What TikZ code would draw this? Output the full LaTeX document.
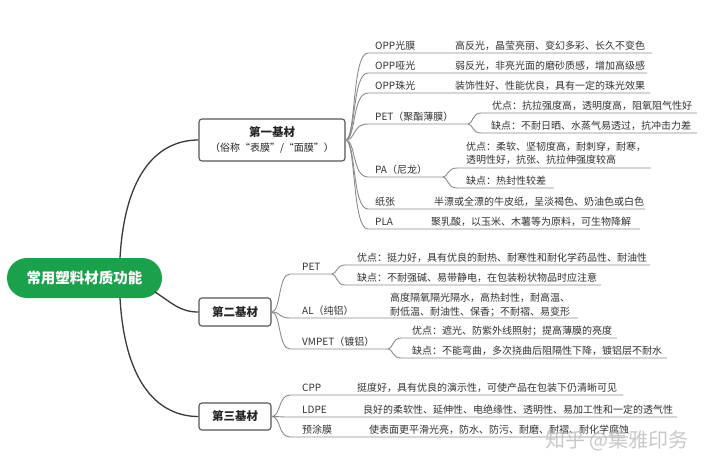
\documentclass[tikz,border=0pt]{standalone}
\usepackage{fontspec}
\setmainfont{Noto Sans CJK SC}
\definecolor{rootgreen}{RGB}{27,160,75}
\definecolor{txt}{HTML}{333333}
\definecolor{lin}{HTML}{8C8C8C}
\definecolor{boxline}{HTML}{555555}
\definecolor{rootline}{HTML}{3A3A3A}
\begin{document}
\begin{tikzpicture}[x=1pt,y=-1pt,
  topic/.style={anchor=base west,inner sep=0pt,text=txt,font=\fontsize{10}{13}\selectfont},
  uline/.style={draw=lin,line width=0.9pt},
  rlink/.style={draw=rootline,line width=1.3pt},
  mainbox/.style={draw=boxline,line width=1.1pt,rounded corners=3pt,fill=white,text=black!85,inner sep=0pt},
  rootnode/.style={fill=rootgreen,rounded corners=20pt,minimum width=155pt,minimum height=40pt,text=white,font=\fontsize{14.5}{16}\selectfont\bfseries,inner sep=0pt},
  watermark/.style={anchor=west,text=gray!50,opacity=0.85,font=\fontsize{20}{22}\selectfont,inner sep=0pt}
]
\fill[white] (0,0) rectangle (720,469);
\useasboundingbox (0,0) rectangle (720,469);

% ---------- main nodes ----------
\node[rootnode] (root) at (84.5,278) {常用塑料材质功能};
\node[mainbox,minimum width=146pt,minimum height=42pt,align=center,font=\fontsize{10}{15}\selectfont] (b1) at (272,140)
  {{\fontsize{11.5}{15}\selectfont\bfseries 第一基材}\\{（俗称“表膜”/“面膜”）}};
\node[mainbox,minimum width=72pt,minimum height=28pt,font=\fontsize{11.5}{14}\selectfont\bfseries] (b2) at (235,312) {第二基材};
\node[mainbox,minimum width=72pt,minimum height=27pt,font=\fontsize{11.5}{14}\selectfont\bfseries] (b3) at (235,416.5) {第三基材};

% ---------- root links ----------
\coordinate (rt) at (120,258);
\coordinate (rr) at (155,292);
\coordinate (rb) at (120,298);
\draw[rlink] (rt) .. controls (125,170) and (160,140) .. (b1.west);
\draw[rlink] (rr) .. controls (172,303) and (180,312) .. (b2.west);
\draw[rlink] (rb) .. controls (125,386) and (160,416.5) .. (b3.west);

% ---------- first base ----------
\coordinate (c1L) at (368,53);  \coordinate (c1R) at (652,53);
\coordinate (c2L) at (368,73);  \coordinate (c2R) at (647,73);
\coordinate (c3L) at (368,93);  \coordinate (c3R) at (650,93);
\coordinate (c4L) at (368,124); \coordinate (c4R) at (468,124);
\coordinate (c5L) at (368,177); \coordinate (c5R) at (443,177);
\coordinate (c6L) at (368,209); \coordinate (c6R) at (645,209);
\coordinate (c7L) at (368,229); \coordinate (c7R) at (640,229);
\draw[uline] (b1.east) .. controls (356,140) and (352,53)  .. (c1L) -- (c1R);
\draw[uline] (b1.east) .. controls (356,140) and (352,73)  .. (c2L) -- (c2R);
\draw[uline] (b1.east) .. controls (356,140) and (352,93)  .. (c3L) -- (c3R);
\draw[uline] (b1.east) .. controls (356,140) and (352,124) .. (c4L) -- (c4R);
\draw[uline] (b1.east) .. controls (356,140) and (352,177) .. (c5L) -- (c5R);
\draw[uline] (b1.east) .. controls (356,140) and (352,209) .. (c6L) -- (c6R);
\draw[uline] (b1.east) .. controls (356,140) and (352,229) .. (c7L) -- (c7R);
% PET sub
\coordinate (c4aL) at (481,113); \coordinate (c4aR) at (697,113);
\coordinate (c4bL) at (481,133); \coordinate (c4bR) at (697,133);
\draw[uline] (c4R) .. controls (473,124) and (472,113) .. (c4aL) -- (c4aR);
\draw[uline] (c4R) .. controls (473,124) and (472,133) .. (c4bL) -- (c4bR);
% PA sub
\coordinate (c5aL) at (457,168); \coordinate (c5aR) at (651,168);
\coordinate (c5bL) at (457,188); \coordinate (c5bR) at (554,188);
\draw[uline] (c5R) .. controls (448,177) and (447,168) .. (c5aL) -- (c5aR);
\draw[uline] (c5R) .. controls (448,177) and (447,188) .. (c5bL) -- (c5bR);

\node[topic] (t1)  at (375,49.5)  {OPP光膜};
\node[topic] (d1)  at (455,49.5)  {高反光，晶莹亮丽、变幻多彩、长久不变色};
\node[topic] (t2)  at (375,69.5)  {OPP哑光};
\node[topic] (d2)  at (455,69.5)  {弱反光，非亮光面的磨砂质感，增加高级感};
\node[topic] (t3)  at (375,89.5)  {OPP珠光};
\node[topic] (d3)  at (455,89.5)  {装饰性好、性能优良，具有一定的珠光效果};
\node[topic] (t4)  at (375,120.5) {PET（聚酯薄膜）};
\node[topic] (d4a) at (492,109.5) {优点：抗拉强度高，透明度高，阻氧阻气性好};
\node[topic] (d4b) at (491,129.5) {缺点：不耐日晒、水蒸气易透过，抗冲击力差};
\node[topic] (t5)  at (375,173.5) {PA（尼龙）};
\node[topic] (d5a) at (466,150)   {优点：柔软、坚韧度高，耐刺穿，耐寒，};
\node[topic] (d5c) at (466,163)   {透明性好，抗张、抗拉伸强度较高};
\node[topic] (d5b) at (466,184.5) {缺点：热封性较差};
\node[topic] (t6)  at (375,205.5) {纸张};
\node[topic] (d6)  at (434,205.5) {半漂或全漂的牛皮纸，呈淡褐色、奶油色或白色};
\node[topic] (t7)  at (375,225.5) {PLA};
\node[topic] (d7)  at (431,225.5) {聚乳酸，以玉米、木薯等为原料，可生物降解};

% ---------- second base ----------
\coordinate (e1L) at (290,274); \coordinate (e1R) at (332,274);
\coordinate (e2L) at (290,318); \coordinate (e2R) at (578,318);
\coordinate (e3L) at (290,349); \coordinate (e3R) at (388,349);
\draw[uline] (b2.east) .. controls (281,312) and (278,274) .. (e1L) -- (e1R);
\draw[uline] (b2.east) .. controls (281,312) and (278,318) .. (e2L) -- (e2R);
\draw[uline] (b2.east) .. controls (281,312) and (278,349) .. (e3L) -- (e3R);
\coordinate (e1aL) at (345,265); \coordinate (e1aR) at (650,265);
\coordinate (e1bL) at (345,285); \coordinate (e1bR) at (601,285);
\draw[uline] (e1R) .. controls (337,274) and (336,265) .. (e1aL) -- (e1aR);
\draw[uline] (e1R) .. controls (337,274) and (336,285) .. (e1bL) -- (e1bR);
\coordinate (e3aL) at (401,338); \coordinate (e3aR) at (617,338);
\coordinate (e3bL) at (401,358); \coordinate (e3bR) at (667,358);
\draw[uline] (e3R) .. controls (393,349) and (392,338) .. (e3aL) -- (e3aR);
\draw[uline] (e3R) .. controls (393,349) and (392,358) .. (e3bL) -- (e3bR);

\node[topic] (s1)  at (302,270.5) {PET};
\node[topic] (g1a) at (357,261.5) {优点：挺力好，具有优良的耐热、耐寒性和耐化学药品性、耐油性};
\node[topic] (g1b) at (357,281.5) {缺点：不耐强碱、易带静电，在包装粉状物品时应注意};
\node[topic] (s2)  at (302,314.5) {AL（纯铝）};
\node[topic] (g2a) at (390,301.5) {高度隔氧隔光隔水，高热封性，耐高温、};
\node[topic] (g2b) at (390,315)   {耐低温、耐油性、保香；不耐褶、易变形};
\node[topic] (s3)  at (302,345.5) {VMPET（镀铝）};
\node[topic] (g3a) at (412,334.5) {优点：遮光、防紫外线照射；提高薄膜的亮度};
\node[topic] (g3b) at (412,354.5) {缺点：不能弯曲，多次挠曲后阻隔性下降，镀铝层不耐水};

% ---------- third base ----------
\coordinate (f1L) at (290,395); \coordinate (f1R) at (623,395);
\coordinate (f2L) at (290,417); \coordinate (f2R) at (677,417);
\coordinate (f3L) at (290,437); \coordinate (f3R) at (628,437);
\draw[uline] (b3.east) .. controls (281,416.5) and (278,395) .. (f1L) -- (f1R);
\draw[uline] (b3.east) .. controls (281,416.5) and (278,417) .. (f2L) -- (f2R);
\draw[uline] (b3.east) .. controls (281,416.5) and (278,437) .. (f3L) -- (f3R);
\node[topic] (u1) at (302,391.5) {CPP};
\node[topic] (h1) at (357,391.5) {挺度好，具有优良的演示性，可使产品在包装下仍清晰可见};
\node[topic] (u2) at (302,413.5) {LDPE};
\node[topic] (h2) at (363,413.5) {良好的柔软性、延伸性、电绝缘性、透明性、易加工性和一定的透气性};
\node[topic] (u3) at (302,433.5) {预涂膜};
\node[topic] (h3) at (369,433.5) {使表面更平滑光亮，防水、防污、耐磨、耐褶、耐化学腐蚀};

\node[watermark] (wm) at (545,441) {知乎 @集雅印务};
\end{tikzpicture}
\end{document}
